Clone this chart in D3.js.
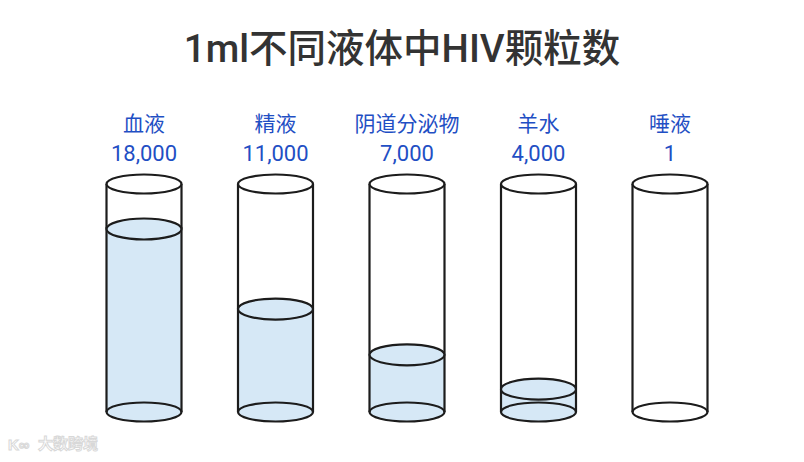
<!DOCTYPE html>
<html><head><meta charset="utf-8">
<script src="https://cdn.jsdelivr.net/npm/d3@7"></script>
<style>html,body{margin:0;padding:0;background:#fff;}svg{display:block;}</style>
</head><body>
<svg id="c" width="804" height="462"></svg>
<script>
const categories = ["血液", "精液", "阴道分泌物", "羊水", "唾液"];
const values = [18000, 11000, 7000, 4000, 1];
const valueLabels = ["18,000", "11,000", "7,000", "4,000", "1"];
const title = "1ml不同液体中HIV颗粒数";

const svg = d3.select("#c");
const W = 804, H = 462;
const topY = 184, bottomY = 412, rx = 37.5, ry = 9.5;
const fillTopY = 229;

const x = d3.scalePoint().domain(categories).range([144, 670]);
const y = d3.scaleLinear().domain([2000, 18000]).range([bottomY, fillTopY]).clamp(true);

svg.append("text").attr("x", W/2).attr("y", 62).attr("text-anchor", "middle")
  .attr("font-family", "Roboto, 'Noto Sans CJK SC', sans-serif")
  .attr("font-weight", 500).attr("font-size", 38.5).attr("fill", "#333")
  .text(title);

const stroke = "#1c1c1c", sw = 2.2, fillC = "#d6e8f6", labC = "#1f4fc4";

categories.forEach((c, i) => {
  const cx = x(c);
  const g = svg.append("g");
  const ly = y(values[i]);
  const hasFill = ly < bottomY - 0.5;
  if (hasFill) {
    g.append("rect").attr("x", cx - rx).attr("y", ly).attr("width", rx*2).attr("height", bottomY - ly).attr("fill", fillC);
  }
  g.append("ellipse").attr("cx", cx).attr("cy", bottomY).attr("rx", rx).attr("ry", ry)
    .attr("fill", hasFill ? fillC : "#fff").attr("stroke", stroke).attr("stroke-width", sw);
  g.append("line").attr("x1", cx - rx).attr("x2", cx - rx).attr("y1", topY).attr("y2", bottomY)
    .attr("stroke", stroke).attr("stroke-width", sw);
  g.append("line").attr("x1", cx + rx).attr("x2", cx + rx).attr("y1", topY).attr("y2", bottomY)
    .attr("stroke", stroke).attr("stroke-width", sw);
  if (hasFill) {
    g.append("ellipse").attr("cx", cx).attr("cy", ly).attr("rx", rx).attr("ry", ry + 1)
      .attr("fill", fillC).attr("stroke", stroke).attr("stroke-width", sw);
  }
  g.append("ellipse").attr("cx", cx).attr("cy", topY).attr("rx", rx).attr("ry", ry)
    .attr("fill", "#fff").attr("stroke", stroke).attr("stroke-width", sw);

  g.append("text").attr("x", cx).attr("y", 131).attr("text-anchor", "middle")
    .attr("font-family", "'Noto Sans CJK SC', sans-serif").attr("font-size", 21).attr("fill", labC)
    .text(c);
  g.append("text").attr("x", cx).attr("y", 161).attr("text-anchor", "middle")
    .attr("font-family", "Roboto, 'Noto Sans', sans-serif").attr("font-size", 22).attr("fill", labC)
    .text(valueLabels[i]);
});

svg.append("text").attr("x", 38).attr("y", 449)
  .attr("font-family", "'Noto Sans CJK SC', sans-serif").attr("font-size", 15).attr("font-weight", "bold")
  .attr("fill", "none").attr("stroke", "#d8d8d8").attr("stroke-width", 1)
  .text("大数跨境");
svg.append("text").attr("x", 8).attr("y", 450)
  .attr("font-family", "sans-serif").attr("font-size", 15).attr("font-weight", "bold")
  .attr("fill", "none").attr("stroke", "#d8d8d8").attr("stroke-width", 1)
  .text("K∞");
</script>
</body></html>
